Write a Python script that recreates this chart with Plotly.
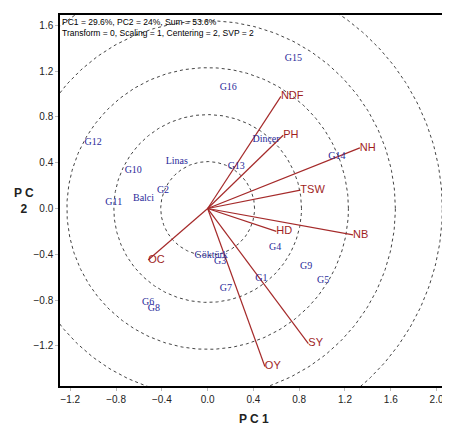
import numpy as np
import plotly.graph_objects as go

geno_names = ["G15","G16","G12","Dinçer","G14","Linas","G13","G10","G2","Balci","G11",
              "Göktürk","G3","G4","G9","G1","G5","G7","G6","G8"]
geno_x = [0.75,0.18,-1.00,0.51,1.13,-0.27,0.25,-0.65,-0.39,-0.56,-0.82,
          0.03,0.11,0.59,0.86,0.47,1.01,0.16,-0.52,-0.47]
geno_y = [1.31,1.06,0.58,0.60,0.45,0.41,0.37,0.33,0.16,0.09,0.05,
          -0.41,-0.46,-0.34,-0.51,-0.61,-0.63,-0.70,-0.82,-0.87]

trait_names = ["NDF","PH","NH","TSW","HD","NB","OC","SY","OY"]
trait_x = [0.64,0.66,1.33,0.81,0.60,1.27,-0.52,0.88,0.50]
trait_y = [0.98,0.64,0.53,0.16,-0.20,-0.23,-0.45,-1.18,-1.38]

circle_radii = [0.41,0.82,1.23,1.64,2.05]
xticks = [-1.2,-0.8,-0.4,0.0,0.4,0.8,1.2,1.6,2.0]
yticks = [-1.2,-0.8,-0.4,0.0,0.4,0.8,1.2,1.6]

fig = go.Figure()
t = np.linspace(0, 2*np.pi, 400)
for r in circle_radii:
    fig.add_trace(go.Scatter(x=r*np.cos(t), y=r*np.sin(t), mode="lines",
                             line=dict(color="#444", width=1, dash="dot"),
                             hoverinfo="skip", showlegend=False))
for n, x, y in zip(trait_names, trait_x, trait_y):
    fig.add_trace(go.Scatter(x=[0, x], y=[0, y], mode="lines",
                             line=dict(color="#a52a2a", width=1.2), showlegend=False))
fig.add_trace(go.Scatter(x=trait_x, y=trait_y, mode="text", text=trait_names,
                         textposition="middle right",
                         textfont=dict(family="Liberation Sans", size=11, color="#a01e1e"),
                         showlegend=False))
fig.add_trace(go.Scatter(x=geno_x, y=geno_y, mode="text", text=geno_names,
                         textposition="middle center",
                         textfont=dict(family="Liberation Serif", size=10, color="#2a2a9a"),
                         showlegend=False))

fig.add_annotation(xref="paper", yref="paper", x=0.0, y=1.0, xanchor="left", yanchor="top",
                   align="left", showarrow=False,
                   text="PC1 = 29.6%, PC2 = 24%, Sum = 53.6%<br>Transform = 0, Scaling = 1, Centering = 2, SVP = 2",
                   font=dict(family="Liberation Sans", size=8.5, color="black"))
fig.add_annotation(xref="paper", yref="paper", x=0.5, y=-0.065, yanchor="top", showarrow=False,
                   text="<b>P C 1</b>", font=dict(family="Liberation Sans", size=12, color="#222"))
fig.add_annotation(xref="paper", yref="paper", x=-0.062, y=0.5, xanchor="right", showarrow=False,
                   text="<b>P C<br>2</b>", font=dict(family="Liberation Sans", size=12, color="#222"))

fig.update_xaxes(range=[-1.29, 2.10], tickvals=xticks, tickformat=".1f", showgrid=False,
                 zeroline=False, showline=True, mirror=True, linecolor="black", linewidth=1.5,
                 ticks="outside", ticklen=3, tickcolor="#bbb", automargin=False,
                 tickfont=dict(family="Liberation Sans", size=10, color="#222"))
fig.update_yaxes(range=[-1.55, 1.69], tickvals=yticks, tickformat=".1f", showgrid=False,
                 zeroline=False, showline=True, mirror=True, linecolor="black", linewidth=1.5,
                 ticks="outside", ticklen=3, tickcolor="#bbb", automargin=False,
                 tickfont=dict(family="Liberation Sans", size=10, color="#222"))
fig.update_layout(width=450, height=425, plot_bgcolor="white", paper_bgcolor="white",
                  margin=dict(l=52, r=10, t=7, b=47))
fig.write_html("out.html")
